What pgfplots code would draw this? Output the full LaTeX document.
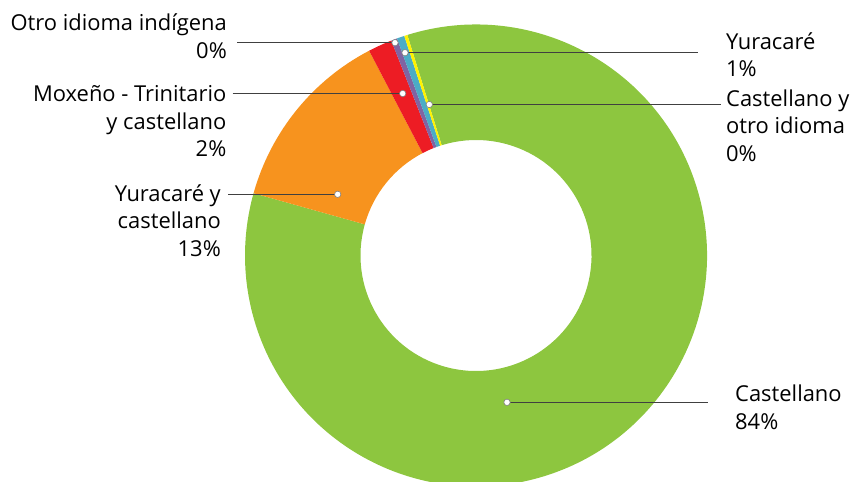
\documentclass[border=0pt]{standalone}
\usepackage{fontspec}
\setmainfont{Open Sans}
\usepackage{pgfplots}
\pgfplotsset{compat=1.18}
\usetikzlibrary{calc}
\definecolor{cGreen}{HTML}{8DC63F}
\definecolor{cOrange}{HTML}{F7931E}
\definecolor{cRed}{HTML}{ED1C24}
\definecolor{cPurple}{HTML}{8064A2}
\definecolor{cCyan}{HTML}{4BACC6}
\definecolor{cYellow}{HTML}{FFF200}
\definecolor{lead}{HTML}{404040}
\newcommand\slice[3]{%
  \fill[#3] ($(axis cs:476,255.5)+(#1:231bp)$) arc[start angle=#1,end angle=#2,radius=231bp]
    -- ($(axis cs:476,255.5)+(#2:115.5bp)$) arc[start angle=#2,end angle=#1,radius=115.5bp] -- cycle;}
\newcommand\leader[3]{%
  \draw[lead, line width=1.3bp] (axis cs:#1,#3) -- (axis cs:#2,#3);
  \filldraw[fill=white, draw=gray, line width=0.6bp] (axis cs:#2,#3) circle[radius=3.2bp];}
\begin{document}
\begin{tikzpicture}[lbl/.style={font=\fontsize{22}{26}\selectfont, text=black, inner sep=0pt}]
% shares in percent, clockwise from the top
\pgfmathsetmacro\aA{107.3}
\pgfmathsetmacro\aB{\aA-3.6*84.15}% Castellano
\pgfmathsetmacro\aC{\aB-3.6*13.00}% Yuracare y castellano
\pgfmathsetmacro\aD{\aC-3.6*1.68}% Moxeno - Trinitario y castellano
\pgfmathsetmacro\aE{\aD-3.6*0.42}% Otro idioma indigena
\pgfmathsetmacro\aF{\aE-3.6*0.53}% Yuracare
\pgfmathsetmacro\aG{\aF-3.6*0.22}% Castellano y otro idioma
\begin{axis}[width=856bp, height=482bp, scale only axis,
  xmin=0, xmax=856, ymin=0, ymax=482, y dir=reverse,
  hide axis, clip=false]
\slice{\aA}{\aB}{cGreen}
\slice{\aB}{\aC}{cOrange}
\slice{\aC}{\aD}{cRed}
\slice{\aD}{\aE}{cPurple}
\slice{\aE}{\aF}{cCyan}
\slice{\aF}{\aG}{cYellow}
\leader{237}{395}{42.7}
\leader{232.7}{402.7}{93.5}
\leader{228}{337.7}{194.3}
\draw[lead, line width=1.3bp] (axis cs:405,52.7) -- (axis cs:698,52.7);
\filldraw[fill=white, draw=gray, line width=0.6bp] (axis cs:405,52.7) circle[radius=3.2bp];
\draw[lead, line width=1.3bp] (axis cs:429.3,104.5) -- (axis cs:721,104.5);
\filldraw[fill=white, draw=gray, line width=0.6bp] (axis cs:429.3,104.5) circle[radius=3.2bp];
\draw[lead, line width=1.3bp] (axis cs:507,402.3) -- (axis cs:708,402.3);
\filldraw[fill=white, draw=gray, line width=0.6bp] (axis cs:507,402.3) circle[radius=3.2bp];
% left labels
\node[lbl, anchor=base east] at (axis cs:227,30.7) {Otro idioma indígena};
\node[lbl, anchor=base east] at (axis cs:227,58.5) {0\%};
\node[lbl, anchor=base east] at (axis cs:226.5,101.7) {Moxeño - Trinitario};
\node[lbl, anchor=base east] at (axis cs:226.5,129) {y castellano};
\node[lbl, anchor=base east] at (axis cs:226.5,156.5) {2\%};
\node[lbl, anchor=base east] at (axis cs:221,201) {Yuracaré y};
\node[lbl, anchor=base east] at (axis cs:221,228.5) {castellano};
\node[lbl, anchor=base east] at (axis cs:221,256) {13\%};
% right labels
\node[lbl, anchor=base west] at (axis cs:726,49.3) {Yuracaré};
\node[lbl, anchor=base west] at (axis cs:726,76.5) {1\%};
\node[lbl, anchor=base west] at (axis cs:726,106) {Castellano y};
\node[lbl, anchor=base west] at (axis cs:726,133.5) {otro idioma};
\node[lbl, anchor=base west] at (axis cs:726,161) {0\%};
\node[lbl, anchor=base west] at (axis cs:735,401.7) {Castellano};
\node[lbl, anchor=base west] at (axis cs:735,429) {84\%};
\end{axis}
\pgfresetboundingbox
\path (0,0) rectangle (856bp,482bp);
\end{tikzpicture}
\end{document}
